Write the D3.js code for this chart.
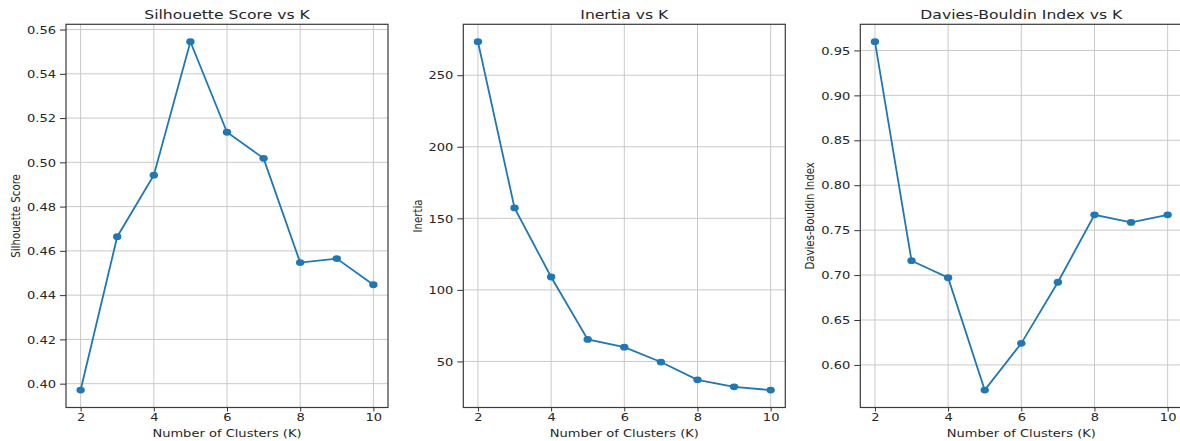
<!DOCTYPE html>
<html>
<head>
<meta charset="utf-8">
<script src="https://cdn.jsdelivr.net/npm/d3@7"></script>
<style>
  html, body { margin: 0; padding: 0; background: #fff; overflow: hidden; }
  text { font-family: "DejaVu Sans", sans-serif; fill: #262626; }
</style>
</head>
<body>
<svg id="fig" width="1180" height="441"></svg>
<script>
// values
const ks = [2, 3, 4, 5, 6, 7, 8, 9, 10];
const silhouette = [0.3971, 0.4664, 0.4942, 0.5545, 0.5136, 0.5018, 0.4547, 0.4565, 0.4447];
const inertia = [273.4, 157.3, 109.0, 65.4, 60.0, 49.6, 37.2, 32.3, 30.0];
const daviesBouldin = [0.9597, 0.716, 0.697, 0.572, 0.624, 0.692, 0.767, 0.7586, 0.767];

const xTicks = [2, 4, 6, 8, 10];
const silTicks = [0.40, 0.42, 0.44, 0.46, 0.48, 0.50, 0.52, 0.54, 0.56];
const inertiaTicks = [50, 100, 150, 200, 250];
const dbTicks = [0.60, 0.65, 0.70, 0.75, 0.80, 0.85, 0.90, 0.95];

const titles = ["Silhouette Score vs K", "Inertia vs K", "Davies-Bouldin Index vs K"];
const yLabels = ["Silhouette Score", "Inertia", "Davies-Bouldin Index"];
const xLabel = "Number of Clusters (K)";

// the source image is stretched horizontally, text is scaled to match
const SX = 1.28;
const color = "#1f77b4";
const panelLeft = [66, 463.3, 860.3];
const panelW = 322;
const plotTop = 24.3, plotBottom = 407.5;

const svg = d3.select("#fig");

function pad(ext, f = 0.05) {
  const d = (ext[1] - ext[0]) * f;
  return [ext[0] - d, ext[1] + d];
}

function drawPanel(i, values, yTicks, fmt) {
  const left = panelLeft[i];
  const g = svg.append("g").attr("transform", `translate(${left},0)`);

  const x = d3.scaleLinear().domain(pad(d3.extent(ks))).range([0, panelW]);
  const y = d3.scaleLinear().domain(pad(d3.extent(values))).range([plotBottom, plotTop]);

  // grid
  g.append("g").selectAll("line").data(xTicks).join("line")
    .attr("x1", d => x(d)).attr("x2", d => x(d))
    .attr("y1", plotTop).attr("y2", plotBottom)
    .attr("stroke", "#c9c9c9").attr("stroke-width", 1);
  g.append("g").selectAll("line").data(yTicks).join("line")
    .attr("x1", 0).attr("x2", panelW)
    .attr("y1", d => y(d)).attr("y2", d => y(d))
    .attr("stroke", "#c9c9c9").attr("stroke-width", 1);

  // axes
  const xAxisG = g.append("g")
    .attr("transform", `translate(0,${plotBottom})`)
    .call(d3.axisBottom(x).tickValues(xTicks).tickSize(4).tickSizeOuter(0).tickPadding(4));
  const yAxisG = g.append("g")
    .call(d3.axisLeft(y).tickValues(yTicks).tickFormat(d3.format(fmt)).tickSize(6).tickSizeOuter(0));
  [xAxisG, yAxisG].forEach(a => {
    a.select(".domain").remove();
    a.selectAll(".tick line").attr("stroke", "#333");
    a.selectAll(".tick text").style("font-size", "10.2px").attr("fill", "#262626")
      .attr("transform", `scale(${SX},1)`);
  });
  yAxisG.selectAll(".tick text").attr("x", -10 / SX).attr("dy", "0.36em");
  xAxisG.selectAll(".tick text").attr("y", 6).attr("dy", "0.75em");

  // frame
  g.append("rect")
    .attr("x", 0).attr("y", plotTop).attr("width", panelW).attr("height", plotBottom - plotTop)
    .attr("fill", "none").attr("stroke", "#3a3a3a").attr("stroke-width", 1.2);

  // line + markers
  const line = d3.line().x((d, j) => x(ks[j])).y(d => y(d));
  g.append("path").datum(values)
    .attr("d", line).attr("fill", "none")
    .attr("stroke", color).attr("stroke-width", 1.8);
  g.append("g").selectAll("ellipse").data(values).join("ellipse")
    .attr("cx", (d, j) => x(ks[j])).attr("cy", d => y(d))
    .attr("rx", 4.2).attr("ry", 3.4).attr("fill", color);

  // title
  g.append("text")
    .attr("transform", `translate(${panelW / 2},19) scale(${SX},1)`)
    .attr("text-anchor", "middle").style("font-size", "12.2px")
    .text(titles[i]);

  // x label
  g.append("text")
    .attr("transform", `translate(${panelW / 2},437) scale(${SX},1)`)
    .attr("text-anchor", "middle").style("font-size", "10.2px")
    .text(xLabel);

  // y label, placed left of the tick labels
  const bb = yAxisG.node().getBBox();
  g.append("text")
    .attr("transform", `translate(${bb.x - 11.5},${(plotTop + plotBottom) / 2}) scale(${SX},1) rotate(-90)`)
    .attr("text-anchor", "middle").attr("dy", "0.36em").style("font-size", "10.2px")
    .text(yLabels[i]);
}

drawPanel(0, silhouette, silTicks, ".2f");
drawPanel(1, inertia, inertiaTicks, "d");
drawPanel(2, daviesBouldin, dbTicks, ".2f");
</script>
</body>
</html>
